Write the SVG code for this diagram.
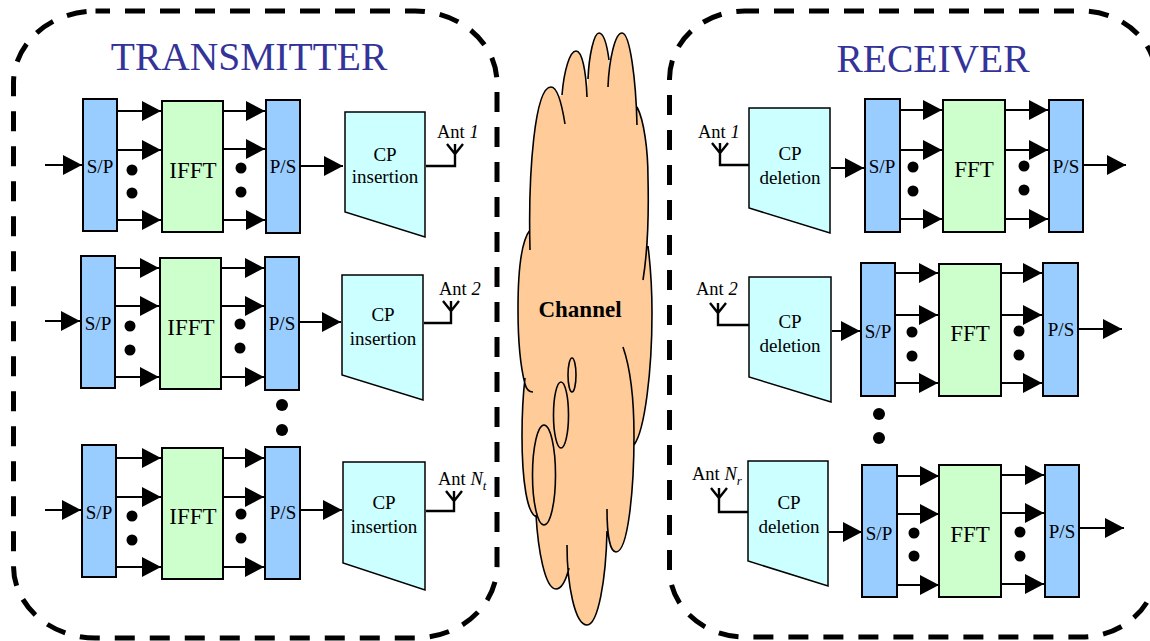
<svg xmlns="http://www.w3.org/2000/svg" xmlns:xlink="http://www.w3.org/1999/xlink" width="1150" height="641" viewBox="0 0 1150 641">
<style>
text{font-family:"Liberation Serif","Times New Roman",serif;fill:#000;text-anchor:middle}
.s{fill:#99ccff;stroke:#000;stroke-width:2}
.f{fill:#ccffcc;stroke:#000;stroke-width:2}
.c{fill:#ccffff;stroke:#000;stroke-width:1.5}
.t{font-size:19px}
.b{font-size:23px}
.a{font-size:18.5px;text-anchor:start}
.h{font-size:39.5px;fill:#333399}
.d{fill:#000}
.ant{fill:none;stroke:#000;stroke-width:2.4}
.box{fill:none;stroke:#000;stroke-width:5;stroke-dasharray:20 15;stroke-dashoffset:5.5}
#conn line{stroke:#000;stroke-width:2;marker-end:url(#ah)}
</style>
<defs>
<marker id="ah" markerUnits="userSpaceOnUse" markerWidth="22" markerHeight="22" refX="19" refY="10" orient="auto"><path d="M0,0L19,10L0,20Z" fill="#000"/></marker>
<path id="lobes" d="M530,250C528,170 535,87 551,87C558,87 562,105 565,124M562,95C564,70 570,51 576,51C582,51 586,70 587,97M588,79C589,55 594,33 599,33C604,33 607,45 609,60M608,87C609,60 615,33 622,33C630,33 636,80 637,125M637,107C644,120 648,150 648,178C649,220 647,255 643,280M648,246C651,270 652,290 652,313C652,370 645,430 634,445M623,347C631,370 634,400 634,436C634,490 628,552 616,552C610,552 607,535 607,509M607,531C606,580 598,625 587,625C575,625 567,585 567,545M569,568C566,580 562,589 556,589C545,589 538,550 536,515M537,517C527,515 522,480 522,436C522,415 523,395 525,378M533,392C528,392 526,388 525,384C520,365 518,335 518,309C518,270 522,240 530,230"/>
</defs>
<rect width="1150" height="641" fill="#fff"/>

<g id="tx-frame"><rect class="box" x="13.500" y="11" width="483.500" height="627" rx="82" ry="72"/><text class="h" x="249" y="70">TRANSMITTER</text></g>
<g id="rx-frame"><rect class="box" x="669.500" y="11" width="487" height="626" rx="75" ry="68"/><text class="h" x="933" y="72">RECEIVER</text></g>

<g id="channel">
<path d="M530,230L530,250L551,100L562,95L576,70L587,90L588,79L599,50L609,60L608,87L622,50L637,107L648,178L648,246L652,313L634,445L616,552L607,531L587,625L567,545L569,568L556,589L536,515L537,517L525,436L525,378L525,384Z" fill="#ffcc99"/>
<use xlink:href="#lobes" fill="#ffcc99"/>
<use xlink:href="#lobes" fill="none" stroke="#000" stroke-width="1.6"/>
<ellipse cx="544" cy="475" rx="11.500" ry="50" fill="none" stroke="#000" stroke-width="1.6"/>
<ellipse cx="561" cy="415" rx="7.500" ry="33" fill="none" stroke="#000" stroke-width="1.6"/>
<ellipse cx="572" cy="375" rx="4" ry="17" fill="none" stroke="#000" stroke-width="1.6"/>
<text x="580" y="317" font-size="23" font-weight="bold">Channel</text>
</g>

<g id="conn">
<line x1="45" y1="165" x2="82" y2="165"/>
<line x1="118" y1="111" x2="161" y2="111"/><line x1="118" y1="150" x2="161" y2="150"/><line x1="118" y1="220" x2="161" y2="220"/>
<line x1="224" y1="111" x2="265" y2="111"/><line x1="224" y1="149" x2="265" y2="149"/><line x1="224" y1="220" x2="265" y2="220"/>
<line x1="301" y1="166" x2="343" y2="166"/>

<line x1="45" y1="321" x2="80" y2="321"/>
<line x1="116" y1="268" x2="159" y2="268"/><line x1="116" y1="306" x2="159" y2="306"/><line x1="116" y1="377" x2="159" y2="377"/>
<line x1="222" y1="268" x2="264" y2="268"/><line x1="222" y1="306" x2="264" y2="306"/><line x1="222" y1="377" x2="264" y2="377"/>
<line x1="300" y1="322" x2="341" y2="322"/>

<line x1="45" y1="510" x2="81" y2="510"/>
<line x1="117" y1="458" x2="161" y2="458"/><line x1="117" y1="497" x2="161" y2="497"/><line x1="117" y1="567" x2="161" y2="567"/>
<line x1="224" y1="458" x2="264" y2="458"/><line x1="224" y1="497" x2="264" y2="497"/><line x1="224" y1="567" x2="264" y2="567"/>
<line x1="301" y1="510" x2="342" y2="510"/>

<line x1="831" y1="168" x2="864" y2="168"/>
<line x1="901" y1="110" x2="942" y2="110"/><line x1="901" y1="150" x2="942" y2="150"/><line x1="901" y1="219" x2="942" y2="219"/>
<line x1="1006" y1="110" x2="1048" y2="110"/><line x1="1006" y1="150" x2="1048" y2="150"/><line x1="1006" y1="219" x2="1048" y2="219"/>
<line x1="1084" y1="165" x2="1126" y2="165"/>

<line x1="832" y1="331" x2="860" y2="331"/>
<line x1="896" y1="273" x2="938" y2="273"/><line x1="896" y1="315" x2="938" y2="315"/><line x1="896" y1="383" x2="938" y2="383"/>
<line x1="1002" y1="273" x2="1042" y2="273"/><line x1="1002" y1="315" x2="1042" y2="315"/><line x1="1002" y1="383" x2="1042" y2="383"/>
<line x1="1079" y1="329" x2="1122" y2="329"/>

<line x1="829" y1="532" x2="862" y2="532"/>
<line x1="897" y1="476" x2="939" y2="476"/><line x1="897" y1="514" x2="939" y2="514"/><line x1="897" y1="585" x2="939" y2="585"/>
<line x1="1001" y1="475" x2="1044" y2="475"/><line x1="1001" y1="513" x2="1044" y2="513"/><line x1="1001" y1="584" x2="1044" y2="584"/>
<line x1="1080" y1="528" x2="1124" y2="528"/>
</g>

<g id="tx1-sp"><rect class="s" x="83" y="99" width="34" height="132"/><text class="t" x="100" y="173">S/P</text></g>
<g id="tx1-ifft"><rect class="f" x="162" y="101" width="61" height="131"/><text class="b" x="193" y="178">IFFT</text></g>
<g id="tx1-ps"><rect class="s" x="266" y="100" width="34" height="133"/><text class="t" x="283" y="173">P/S</text></g>
<g id="tx1-cp"><polygon class="c" points="345,112 425,112 425,237 345,212"/><text class="t" x="385" y="161">CP</text><text class="t" x="385" y="183">insertion</text></g>
<g id="tx1-ant"><path class="ant" d="M426,166H455V144M447,144L455,154L463,144"/><text class="a" x="437" y="138">Ant <tspan font-style="italic">1</tspan></text></g>
<g id="tx1-dots"><circle class="d" cx="132" cy="170" r="5.500"/><circle class="d" cx="132" cy="193" r="5.500"/><circle class="d" cx="241" cy="168" r="5.500"/><circle class="d" cx="241" cy="192" r="5.500"/></g>

<g id="tx2-sp"><rect class="s" x="81" y="256" width="34" height="132"/><text class="t" x="98" y="330">S/P</text></g>
<g id="tx2-ifft"><rect class="f" x="160" y="258" width="61" height="131"/><text class="b" x="191" y="335">IFFT</text></g>
<g id="tx2-ps"><rect class="s" x="265" y="257" width="34" height="133"/><text class="t" x="282" y="330">P/S</text></g>
<g id="tx2-cp"><polygon class="c" points="342,275 423,275 423,400 342,375"/><text class="t" x="383" y="321">CP</text><text class="t" x="383" y="345">insertion</text></g>
<g id="tx2-ant"><path class="ant" d="M424,323H451V301M443,301L451,311L459,301"/><text class="a" x="439" y="295">Ant <tspan font-style="italic">2</tspan></text></g>
<g id="tx2-dots"><circle class="d" cx="130" cy="326" r="5.500"/><circle class="d" cx="130" cy="350" r="5.500"/><circle class="d" cx="240" cy="324" r="5.500"/><circle class="d" cx="240" cy="348" r="5.500"/></g>

<g id="tx-gap"><circle class="d" cx="282" cy="405" r="6"/><circle class="d" cx="282" cy="430" r="6"/></g>

<g id="tx3-sp"><rect class="s" x="82" y="445" width="34" height="132"/><text class="t" x="99" y="519">S/P</text></g>
<g id="tx3-ifft"><rect class="f" x="162" y="448" width="61" height="131"/><text class="b" x="193" y="524">IFFT</text></g>
<g id="tx3-ps"><rect class="s" x="265" y="447" width="35" height="132"/><text class="t" x="283" y="519">P/S</text></g>
<g id="tx3-cp"><polygon class="c" points="343,462 425,462 425,590 343,563"/><text class="t" x="384" y="509">CP</text><text class="t" x="384" y="533">insertion</text></g>
<g id="tx3-ant"><path class="ant" d="M426,511H454V491M446,491L454,501L462,491"/><text class="a" x="438" y="485">Ant <tspan font-style="italic">N</tspan><tspan font-size="13" font-style="italic" dy="5">t</tspan></text></g>
<g id="tx3-dots"><circle class="d" cx="132" cy="516" r="5.500"/><circle class="d" cx="132" cy="540" r="5.500"/><circle class="d" cx="241" cy="514" r="5.500"/><circle class="d" cx="241" cy="538" r="5.500"/></g>

<g id="rx1-ant"><path class="ant" d="M749,165H720V143M712,143L720,153L728,143"/><text class="a" x="698" y="138">Ant <tspan font-style="italic">1</tspan></text></g>
<g id="rx1-cp"><polygon class="c" points="749,108 830,108 830,233 749,208"/><text class="t" x="790" y="160">CP</text><text class="t" x="790" y="184">deletion</text></g>
<g id="rx1-sp"><rect class="s" x="865" y="99" width="35" height="133"/><text class="t" x="882" y="173">S/P</text></g>
<g id="rx1-fft"><rect class="f" x="943" y="100" width="62" height="132"/><text class="b" x="974" y="177">FFT</text></g>
<g id="rx1-ps"><rect class="s" x="1049" y="100" width="34" height="132"/><text class="t" x="1066" y="173">P/S</text></g>
<g id="rx1-dots"><circle class="d" cx="913" cy="167" r="5.500"/><circle class="d" cx="913" cy="191" r="5.500"/><circle class="d" cx="1024" cy="166" r="5.500"/><circle class="d" cx="1024" cy="190" r="5.500"/></g>

<g id="rx2-ant"><path class="ant" d="M749,325H718V303M710,303L718,313L726,303"/><text class="a" x="696" y="295">Ant <tspan font-style="italic">2</tspan></text></g>
<g id="rx2-cp"><polygon class="c" points="749,277 831,277 831,402 749,377"/><text class="t" x="790" y="328">CP</text><text class="t" x="790" y="352">deletion</text></g>
<g id="rx2-sp"><rect class="s" x="861" y="263" width="34" height="133"/><text class="t" x="878" y="338">S/P</text></g>
<g id="rx2-fft"><rect class="f" x="939" y="264" width="62" height="132"/><text class="b" x="970" y="341">FFT</text></g>
<g id="rx2-ps"><rect class="s" x="1043" y="263" width="35" height="133"/><text class="t" x="1061" y="336">P/S</text></g>
<g id="rx2-dots"><circle class="d" cx="912" cy="332" r="5.500"/><circle class="d" cx="912" cy="356" r="5.500"/><circle class="d" cx="1019" cy="331" r="5.500"/><circle class="d" cx="1019" cy="355" r="5.500"/></g>

<g id="rx-gap"><circle class="d" cx="879" cy="414" r="6"/><circle class="d" cx="879" cy="438" r="6"/></g>

<g id="rx3-ant"><path class="ant" d="M748,512H719V488M711,488L719,498L727,488"/><text class="a" x="692" y="480">Ant <tspan font-style="italic">N</tspan><tspan font-size="13" font-style="italic" dy="5">r</tspan></text></g>
<g id="rx3-cp"><polygon class="c" points="748,461 828,461 828,586 748,561"/><text class="t" x="789" y="509">CP</text><text class="t" x="789" y="533">deletion</text></g>
<g id="rx3-sp"><rect class="s" x="862" y="465" width="35" height="132"/><text class="t" x="879" y="540">S/P</text></g>
<g id="rx3-fft"><rect class="f" x="939" y="465" width="62" height="132"/><text class="b" x="970" y="542">FFT</text></g>
<g id="rx3-ps"><rect class="s" x="1045" y="465" width="34" height="132"/><text class="t" x="1062" y="538">P/S</text></g>
<g id="rx3-dots"><circle class="d" cx="914" cy="533" r="5.500"/><circle class="d" cx="914" cy="556" r="5.500"/><circle class="d" cx="1020" cy="532" r="5.500"/><circle class="d" cx="1020" cy="556" r="5.500"/></g>
</svg>
